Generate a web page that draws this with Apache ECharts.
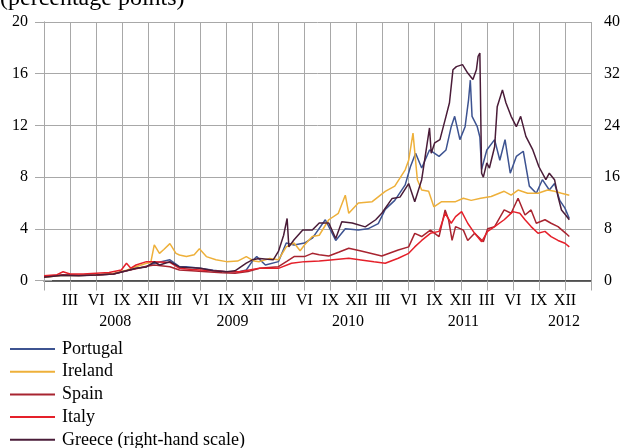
<!DOCTYPE html>
<html>
<head>
<meta charset="utf-8">
<script src="https://cdn.jsdelivr.net/npm/echarts@6/dist/echarts.min.js"></script>
<style>
  html, body { margin: 0; padding: 0; background: #fff; }
  #chart { width: 623px; height: 448px; }
</style>
</head>
<body>
<div id="chart"></div>
<script>
// x = months counted from the first gridline (start of 2008), one gridline every quarter
var monthLabels = ['XII', 'III', 'VI', 'IX'];
var yearLabels = ['2008', '2009', '2010', '2011', '2012'];
var yearPos = [8.2, 21.7, 35.0, 48.3, 59.9];

var portugal = [[0,0.28],[2.2,0.4],[4,0.38],[6,0.43],[8,0.5],[9.5,0.75],[10.6,0.94],[11.8,1.07],[12.7,1.33],[13.5,1.45],[14.5,1.6],[15.6,1.07],[16.4,1.07],[18,0.94],[19.5,0.8],[21,0.68],[22.5,0.68],[23.3,0.81],[24,1.5],[24.5,1.85],[25.5,1.2],[27,1.46],[27.9,2.9],[28.8,2.75],[30,2.9],[30.9,3.27],[31.3,3.65],[32.4,4.7],[33.6,3.1],[34.7,4.0],[36.2,3.9],[37.3,4.0],[38.5,4.4],[39.3,5.5],[40.4,6.2],[41.6,7.4],[42.2,8.8],[42.8,9.85],[43.5,8.7],[44.4,10.1],[45.5,9.6],[46.3,10.1],[46.9,11.9],[47.3,12.7],[47.9,10.9],[48.5,11.9],[48.9,14],[49.1,15.5],[49.3,12.7],[49.9,11.9],[50.2,11.1],[50.4,8.6],[51,10.1],[51.9,10.9],[52.5,9.3],[53.1,10.9],[53.7,8.3],[54.4,9.6],[55.2,10],[55.9,7.3],[56.7,6.75],[57.4,7.8],[58.2,7.0],[58.8,7.5],[59.4,6.2],[60,5.6],[60.5,4.8]];

var ireland = [[0,0.25],[2.2,0.4],[4,0.38],[6,0.43],[8,0.55],[9.5,0.8],[10.6,1.07],[11.8,1.33],[12.3,1.4],[12.7,2.75],[13.3,2.1],[13.8,2.4],[14.5,2.85],[15.2,2.1],[15.6,1.97],[16.4,1.85],[17.3,2.0],[17.9,2.45],[18.7,1.85],[19.8,1.6],[21,1.46],[22.3,1.5],[23.3,1.85],[24.2,1.5],[24.8,1.46],[26,1.7],[27,1.6],[27.9,2.6],[28.8,2.9],[29.5,2.3],[30,2.75],[30.9,3.4],[31.7,3.5],[32.8,4.7],[33.9,5.2],[34.7,6.6],[35.1,5.2],[36.2,6.0],[37.8,6.1],[39.3,6.9],[40.4,7.3],[41.6,8.56],[42,9.3],[42.5,11.4],[43,7.8],[43.5,7.0],[44.3,6.9],[44.9,5.7],[45.8,6.1],[47.4,6.1],[48.3,6.36],[49.2,6.2],[50.3,6.36],[51.5,6.5],[53,6.9],[53.8,6.6],[54.6,7.0],[55.7,6.75],[56.9,6.75],[58,7.0],[58.8,6.9],[59.6,6.75],[60.5,6.6]];

var spain = [[0,0.3],[2.2,0.45],[4,0.4],[6,0.43],[8,0.5],[9.5,0.75],[10.6,0.9],[11.8,1.1],[12.7,1.2],[14.5,1.07],[15.6,0.81],[17,0.75],[18.7,0.68],[20.5,0.6],[22,0.56],[23.5,0.7],[24.8,0.94],[27,1.07],[28,1.5],[28.8,1.85],[30,1.85],[30.9,2.1],[31.7,2.0],[32.8,1.9],[34,2.2],[35.1,2.5],[36.4,2.3],[38.9,1.9],[40.8,2.36],[42,2.6],[42.7,3.65],[43.5,3.4],[44.5,3.9],[45.5,3.4],[46.2,5.46],[46.6,4.7],[47,3.1],[47.4,4.17],[48.3,3.9],[48.8,3.1],[49.6,3.65],[50.6,3.0],[51.1,4.0],[51.9,4.17],[53,5.46],[53.8,5.2],[54.6,6.36],[55.4,5.07],[56.1,5.46],[56.7,4.43],[57.7,4.7],[58.4,4.43],[59.2,4.17],[60.1,3.65],[60.5,3.4]];

var italy = [[0,0.37],[1.5,0.45],[2.2,0.68],[3,0.5],[4.5,0.5],[6,0.56],[7.5,0.62],[8.9,0.81],[9.5,1.33],[10,0.95],[10.6,1.2],[11.8,1.46],[12.7,1.46],[14.5,1.4],[15.6,0.94],[17,0.85],[18,0.81],[19.5,0.75],[21,0.68],[22.5,0.68],[23.5,0.8],[24.8,0.94],[27,0.94],[28.5,1.33],[30,1.46],[31.7,1.5],[33,1.59],[35.1,1.72],[36.5,1.59],[38,1.45],[39.3,1.33],[40.8,1.72],[42,2.1],[42.7,2.6],[43.5,3.1],[44.5,3.65],[45.5,3.8],[46.2,5.2],[46.9,4.43],[47.4,4.94],[48.1,5.33],[48.8,4.43],[49.6,3.65],[50.4,3.0],[51.1,3.8],[51.9,4.17],[53,4.7],[54,5.33],[54.8,5.2],[55.4,4.7],[56.1,4.17],[56.9,3.65],[57.7,3.8],[58.4,3.4],[59.2,3.1],[60,2.88],[60.5,2.6]];

// right-hand scale
var greece = [[0,0.5],[2.2,0.8],[4,0.75],[6,0.85],[8,1.0],[9.5,1.5],[10.6,1.9],[11.8,2.1],[12.7,2.9],[13.3,2.4],[14.5,2.9],[15.6,2.1],[16.4,2.0],[18,1.9],[19.5,1.5],[21,1.36],[22,1.5],[23.3,2.7],[24,3.2],[24.8,3.4],[26.4,3.2],[27,4.5],[27.6,7.0],[28,9.6],[28.2,5.2],[28.8,6.3],[29.8,7.8],[30.9,7.8],[31.7,8.9],[32.8,8.9],[33.6,6.5],[34.3,9.1],[35.5,8.9],[37,8.3],[38.2,9.4],[38.9,10.4],[40.1,12.7],[41,12.9],[42,15.0],[42.7,12.2],[43.5,15.6],[44.4,23.6],[44.6,19.7],[45,21.3],[45.6,21.8],[46.3,25.4],[46.7,27.5],[47.1,32.6],[47.5,33.1],[48.2,33.4],[48.8,32.1],[49.4,31.1],[49.8,32.6],[50.0,34.7],[50.2,35.2],[50.4,16.6],[50.6,16.0],[51.0,18.2],[51.3,17.4],[51.9,20.7],[52.2,26.9],[52.8,29.5],[53.2,27.5],[53.8,25.4],[54.4,23.8],[54.9,25.4],[55.5,22.3],[56.3,20.2],[57.0,17.6],[57.8,15.6],[58.2,16.6],[58.8,15.6],[59.2,13.0],[59.6,10.9],[60.1,10.1],[60.5,9.4]];

var font = 'Liberation Serif';
var gridColor = '#a8a8a8';

function line (name, data, color, yIndex) {
  return {
    name: name,
    type: 'line',
    yAxisIndex: yIndex,
    data: data,
    showSymbol: false,
    symbol: 'none',
    lineStyle: { color: color, width: 1.5 },
    itemStyle: { color: color },
    emphasis: { disabled: true }
  };
}

var chart = echarts.init(document.getElementById('chart'));
chart.setOption({
  animation: false,
  backgroundColor: '#fff',
  title: {
    text: '(percentage points)',
    left: 0,
    top: -13,
    padding: 0,
    textStyle: { fontFamily: font, fontSize: 24, fontWeight: 'normal', color: '#000' }
  },
  legend: {
    orient: 'vertical',
    left: 10,
    top: 340,
    height: 140,
    padding: 0,
    icon: 'rect',
    itemWidth: 45,
    itemHeight: 2,
    itemGap: 4.7,
    textStyle: { fontFamily: font, fontSize: 18, lineHeight: 18, color: '#000', padding: [0, 0, 0, 2] },
    data: ['Portugal', 'Ireland', 'Spain', 'Italy', 'Greece (right-hand scale)']
  },
  grid: { left: 44, right: 31, top: 22, bottom: 167.5, containLabel: false },
  xAxis: [{
    type: 'value',
    min: 0,
    max: 63,
    interval: 3,
    axisLine: { show: true, onZero: false, lineStyle: { color: '#333', width: 1.5 } },
    axisTick: { show: true, length: 10, lineStyle: { color: gridColor } },
    splitLine: { show: true, lineStyle: { color: gridColor, width: 1 } },
    axisLabel: {
      margin: 12,
      fontFamily: font, fontSize: 16, color: '#000',
      formatter: function (v) {
        if (v === 0 || v === 63) return '';
        return monthLabels[(v / 3) % 4];
      }
    }
  }, {
    type: 'value',
    position: 'bottom',
    min: 0,
    max: 63,
    axisLine: { show: false },
    axisTick: { show: false },
    splitLine: { show: false },
    axisLabel: {
      margin: 33,
      fontFamily: font, fontSize: 16, color: '#000',
      customValues: yearPos,
      formatter: function (v) {
        var i = yearPos.indexOf(v);
        return i >= 0 ? yearLabels[i] : '';
      }
    }
  }],
  yAxis: [{
    type: 'value',
    min: 0,
    max: 20,
    interval: 4,
    axisLine: { show: true, lineStyle: { color: gridColor } },
    axisTick: { show: true, length: 9, lineStyle: { color: gridColor } },
    splitLine: { show: true, lineStyle: { color: gridColor, width: 1 } },
    axisLabel: { margin: 16, fontFamily: font, fontSize: 16, color: '#000' }
  }, {
    type: 'value',
    min: 0,
    max: 40,
    interval: 8,
    position: 'right',
    axisLine: { show: true, lineStyle: { color: gridColor } },
    axisTick: { show: true, length: 8, lineStyle: { color: gridColor } },
    splitLine: { show: false },
    axisLabel: { margin: 13, fontFamily: font, fontSize: 16, color: '#000' }
  }],
  series: [
    line('Portugal', portugal, '#3d5391', 0),
    line('Ireland', ireland, '#eeb03a', 0),
    line('Spain', spain, '#a82430', 0),
    line('Italy', italy, '#e5202a', 0),
    line('Greece (right-hand scale)', greece, '#4a1c38', 1)
  ]
});
</script>
</body>
</html>
